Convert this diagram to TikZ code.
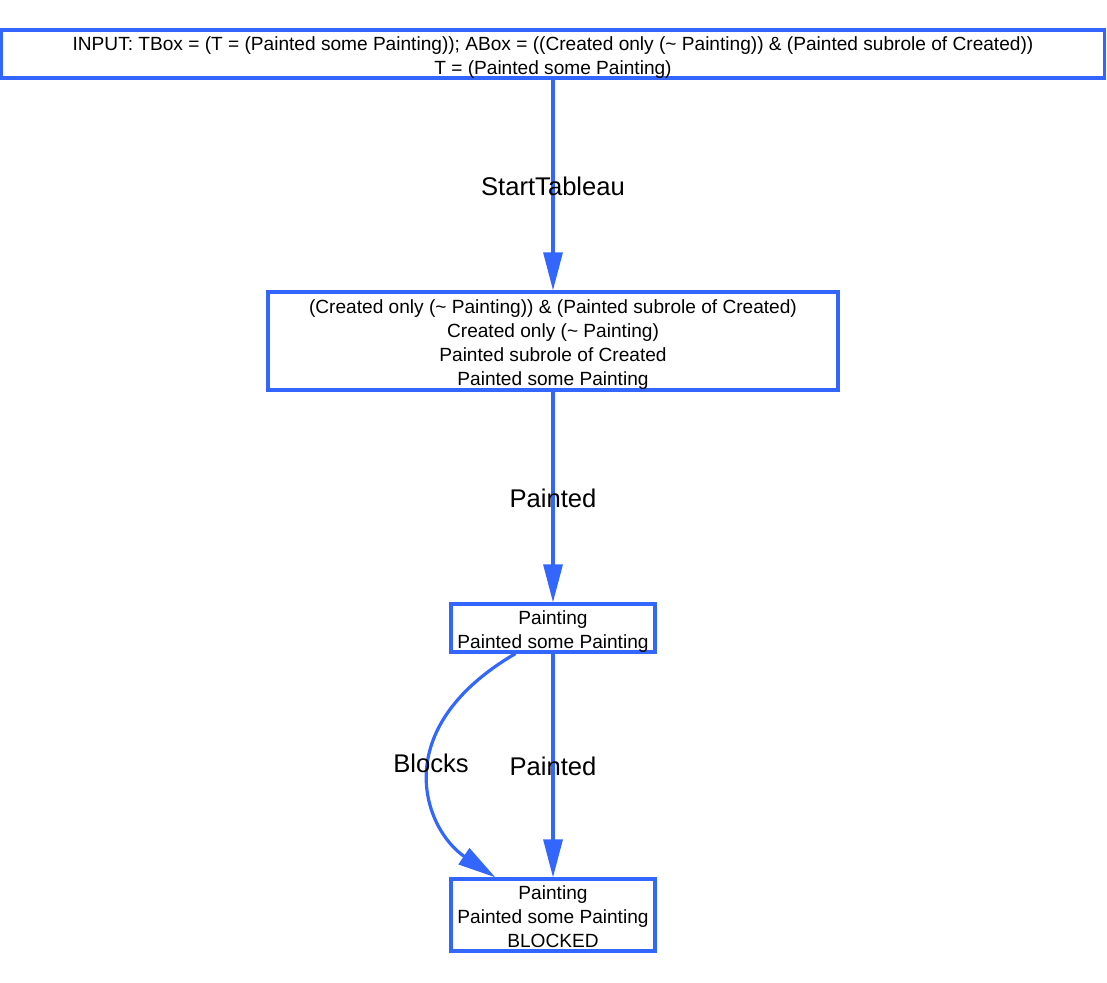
\documentclass[tikz,border=0pt]{standalone}
\usepackage{fontspec}
\setmainfont{Liberation Sans}
\usetikzlibrary{arrows.meta}
\definecolor{gvblue}{RGB}{51,102,255}
\newcommand{\gvlines}[1]{\raisebox{-3.5pt}[\height][\depth]{\begin{tabular}{@{}c@{}}#1\end{tabular}}}
\begin{document}
\begin{tikzpicture}[x=1pt,y=-1pt,
  box/.style={draw=gvblue,line width=3.2pt,inner sep=0pt,font=\fontsize{19.1}{24}\selectfont},
  edge/.style={draw=gvblue,line width=3.2pt,-{Triangle[length=38pt,width=19pt]}},
  elabel/.style={font=\fontsize{25.6}{30}\selectfont,inner sep=0pt}]
\useasboundingbox (0,0) rectangle (1107,982);
\node[box,minimum width=1103pt,minimum height=46pt] (top) at (553,54) {\gvlines{INPUT: TBox = (T = (Painted some Painting)); ABox = ((Created only ({\char`\~} Painting)) \& (Painted subrole of Created))\\T = (Painted some Painting)}};
\node[box,minimum width=570pt,minimum height=98pt] (n2) at (553,341) {\gvlines{(Created only ({\char`\~} Painting)) \& (Painted subrole of Created)\\Created only ({\char`\~} Painting)\\Painted subrole of Created\\Painted some Painting}};
\node[box,minimum width=204pt,minimum height=48pt] (n3) at (553,628) {\gvlines{Painting\\Painted some Painting}};
\node[box,minimum width=204pt,minimum height=72pt] (n4) at (553,915) {\gvlines{Painting\\Painted some Painting\\BLOCKED}};
\draw[edge] (top) -- (n2);
\draw[edge] (n2) -- (n3);
\draw[edge] (n3) -- (n4);
\draw[edge] ([xshift=66pt]n3.south west) .. controls (385,730) and (425,830) .. ([xshift=46pt]n4.north west);
\node[elabel] (l1) at (553,186) {StartTableau};
\node[elabel] (l2) at (553,498) {Painted};
\node[elabel] (l3) at (431,763) {Blocks};
\node[elabel] (l4) at (553,766) {Painted};
\end{tikzpicture}
\end{document}
